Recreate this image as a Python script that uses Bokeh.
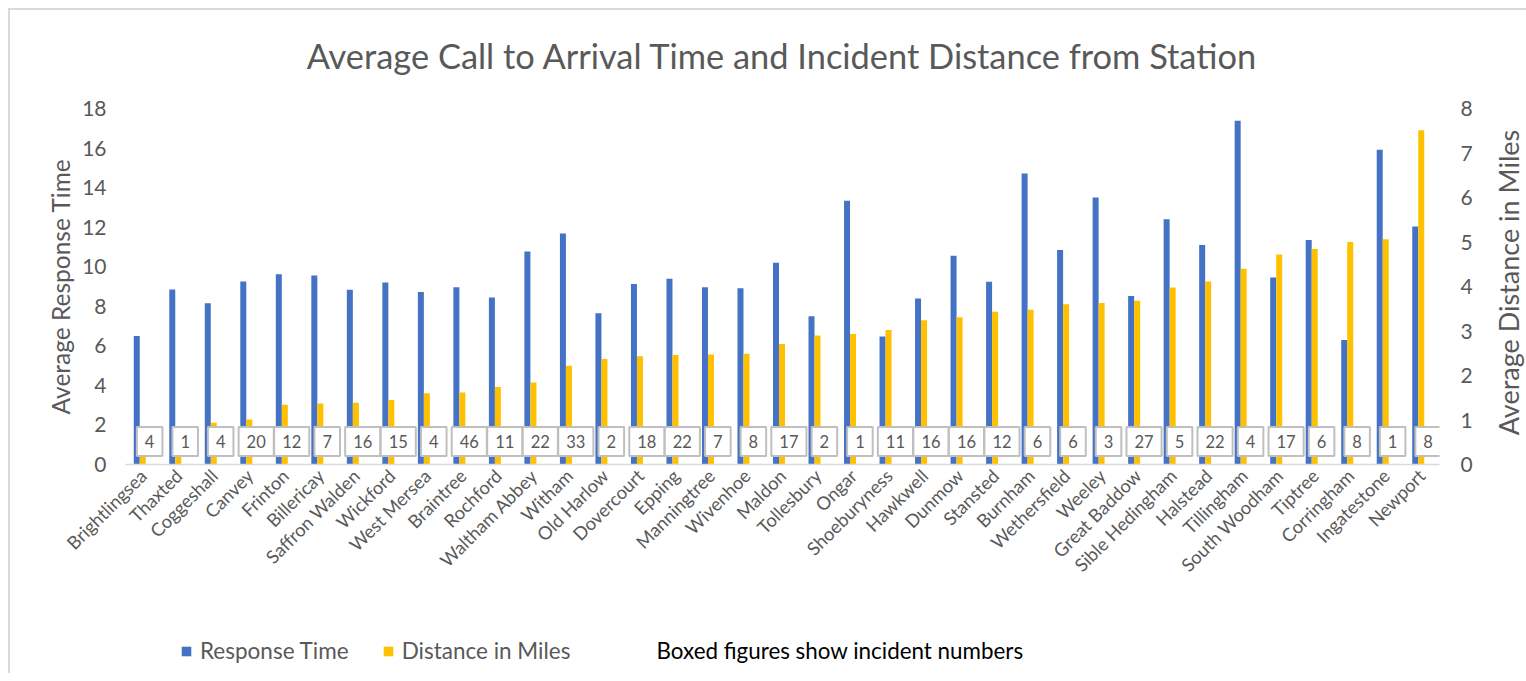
import math
from bokeh.plotting import figure
from bokeh.layouts import column, row
from bokeh.models import (ColumnDataSource, FactorRange, Range1d, LinearAxis,
                          Legend, LegendItem, Label)
from bokeh.transform import dodge
from bokeh.core.properties import value
from bokeh.embed import file_html
from bokeh.resources import INLINE

stations = ["Brightlingsea", "Thaxted", "Coggeshall", "Canvey", "Frinton", "Billericay",
            "Saffron Walden", "Wickford", "West Mersea", "Braintree", "Rochford",
            "Waltham Abbey", "Witham", "Old Harlow", "Dovercourt", "Epping", "Manningtree",
            "Wivenhoe", "Maldon", "Tollesbury", "Ongar", "Shoeburyness", "Hawkwell", "Dunmow",
            "Stansted", "Burnham", "Wethersfield", "Weeley", "Great Baddow", "Sible Hedingham",
            "Halstead", "Tillingham", "South Woodham", "Tiptree", "Corringham", "Ingatestone",
            "Newport"]
response_time = [6.5, 8.85, 8.15, 9.25, 9.62, 9.55, 8.84, 9.2, 8.72, 8.96, 8.44, 10.77,
                 11.68, 7.65, 9.13, 9.39, 8.96, 8.91, 10.2, 7.5, 13.34, 6.47, 8.39, 10.55,
                 9.24, 14.71, 10.85, 13.5, 8.52, 12.4, 11.1, 17.38, 9.46, 11.35, 6.29, 15.91,
                 12.04]
distance_miles = [0.55, 0.7, 0.94, 1.01, 1.34, 1.37, 1.39, 1.45, 1.6, 1.62, 1.74, 1.84,
                  2.22, 2.37, 2.43, 2.46, 2.47, 2.49, 2.71, 2.9, 2.93, 3.02, 3.24, 3.31,
                  3.43, 3.48, 3.6, 3.63, 3.68, 3.98, 4.11, 4.4, 4.72, 4.84, 5.0, 5.06, 7.51]
incidents = [4, 1, 4, 20, 12, 7, 16, 15, 4, 46, 11, 22, 33, 2, 18, 22, 7, 8, 17, 2, 1, 11,
             16, 16, 12, 6, 6, 3, 27, 5, 22, 4, 17, 6, 8, 1, 8]
left_ticks = [0, 2, 4, 6, 8, 10, 12, 14, 16, 18]
right_ticks = [0, 1, 2, 3, 4, 5, 6, 7, 8]
series_names = ["Response Time", "Distance in Miles"]
series_colors = ["#4472C4", "#FFC000"]
note_text = "Boxed figures show incident numbers"
right_label = "Average Distance in Miles"

GREY = "#595959"
FONT = "Lato"
W = 1526
W1 = 1478
W3 = W - W1
H1 = 630
H2 = 43

source = ColumnDataSource(dict(station=stations, rt=response_time, dm=distance_miles,
                               inc=[str(i) for i in incidents]))

p = figure(x_range=FactorRange(factors=stations, range_padding=0, factor_padding=0),
           y_range=Range1d(0, 18), width=W1, height=H1,
           title="Average Call to Arrival Time and Incident Distance from Station",
           output_backend="svg", toolbar_location=None,
           min_border_left=125, min_border_right=39, min_border_top=108,
           min_border_bottom=166, outline_line_color=None,
           background_fill_color="white", border_fill_color=None)
p.extra_y_ranges = {"dist": Range1d(0, 8)}

p.title.align = "center"
p.title.text_font = FONT
p.title.text_font_size = "34.4px"
p.title.text_font_style = "normal"
p.title.text_color = GREY
p.title.standoff = 65

p.vbar(x=dodge("station", -0.183, range=p.x_range), top="rt", width=0.169,
       source=source, fill_color=series_colors[0], line_color=None)
p.vbar(x=dodge("station", -0.014, range=p.x_range), top="dm", width=0.169,
       source=source, fill_color=series_colors[1], line_color=None, y_range_name="dist")

p.text(x=dodge("station", 0.18, range=p.x_range), y=1.16, text="inc", source=source,
       text_align="center", text_baseline="middle", text_font=value(FONT),
       text_font_size="16.5px", text_color=GREY, background_fill_color="white",
       border_line_color="#bfbfbf", border_line_width=2, padding=(8, 8, 8, 8))

p.xgrid.visible = False
p.ygrid.visible = False

p.yaxis.ticker = left_ticks
p.yaxis.axis_label = "Average Response Time"
right = LinearAxis(y_range_name="dist", ticker=right_ticks)
p.add_layout(right, "right")

for ax in [p.yaxis[0], right]:
    ax.axis_line_color = None
    ax.major_tick_line_color = None
    ax.minor_tick_line_color = None
    ax.major_tick_out = 0
    ax.major_tick_in = 0
    ax.major_label_text_font = FONT
    ax.major_label_text_font_size = "21px"
    ax.major_label_text_color = GREY
    ax.axis_label_text_font = FONT
    ax.axis_label_text_font_size = "24.5px"
    ax.axis_label_text_font_style = "normal"
    ax.axis_label_text_color = GREY
p.yaxis[0].major_label_standoff = 19
p.yaxis[0].axis_label_standoff = 4
right.major_label_standoff = 21

xa = p.xaxis[0]
xa.axis_line_color = "#d9d9d9"
xa.axis_line_width = 1.5
xa.major_tick_line_color = None
xa.major_tick_out = 0
xa.major_tick_in = 0
xa.major_label_orientation = math.pi / 4
xa.major_label_standoff = 8
xa.major_label_text_font = FONT
xa.major_label_text_font_size = "18.3px"
xa.major_label_text_color = GREY

# right-hand axis title strip (reads bottom-to-top)
p3 = figure(width=W3, height=H1, x_range=Range1d(0, 1), y_range=Range1d(0, 1),
            x_axis_location=None, y_axis_location=None, min_border=0,
            output_backend="svg", toolbar_location=None, outline_line_color=None,
            background_fill_color=None, border_fill_color=None)
p3.grid.visible = False
p3.add_layout(Label(x=0.625, y=0.511, text=right_label, angle=math.pi / 2,
                    text_align="center", text_baseline="middle", text_font=FONT,
                    text_font_size="27px", text_color=GREY))

# legend strip below the chart
p2 = figure(width=W, height=H2, x_range=Range1d(125, 1439), y_range=Range1d(0, H2),
            x_axis_location=None, y_axis_location=None, min_border=0,
            min_border_left=125, min_border_right=W - 1439,
            output_backend="svg", toolbar_location=None, outline_line_color=None,
            background_fill_color=None, border_fill_color=None)
p2.grid.visible = False
items = []
for name, col in zip(series_names, series_colors):
    r = p2.quad(left=[float("nan")], right=[float("nan")], top=[float("nan")],
                bottom=[float("nan")], fill_color=col, line_color=None)
    items.append(LegendItem(label=value(name), renderers=[r]))
legend = Legend(items=items, orientation="horizontal", location=(55, 9),
                glyph_width=12, glyph_height=12, label_standoff=8, spacing=33,
                padding=0, margin=0, border_line_color=None, background_fill_alpha=0,
                label_text_font=FONT, label_text_font_size="22.5px",
                label_text_color=GREY)
p2.add_layout(legend)
p2.add_layout(Label(x=656, y=23, text=note_text, text_align="left",
                    text_baseline="middle", text_font=FONT, text_font_size="22.4px",
                    text_color="black"))

layout = column(row(p, p3, spacing=0), p2, spacing=0)
layout.styles = {
    "background": "linear-gradient(#d9d9d9, #d9d9d9) 8px 8px / 2px calc(100% - 8px) no-repeat, "
                  "linear-gradient(#d9d9d9, #d9d9d9) 8px 8px / calc(100% - 8px) 2px no-repeat, "
                  "#ffffff"
}
open("out.html", "w").write(file_html(layout, INLINE))
